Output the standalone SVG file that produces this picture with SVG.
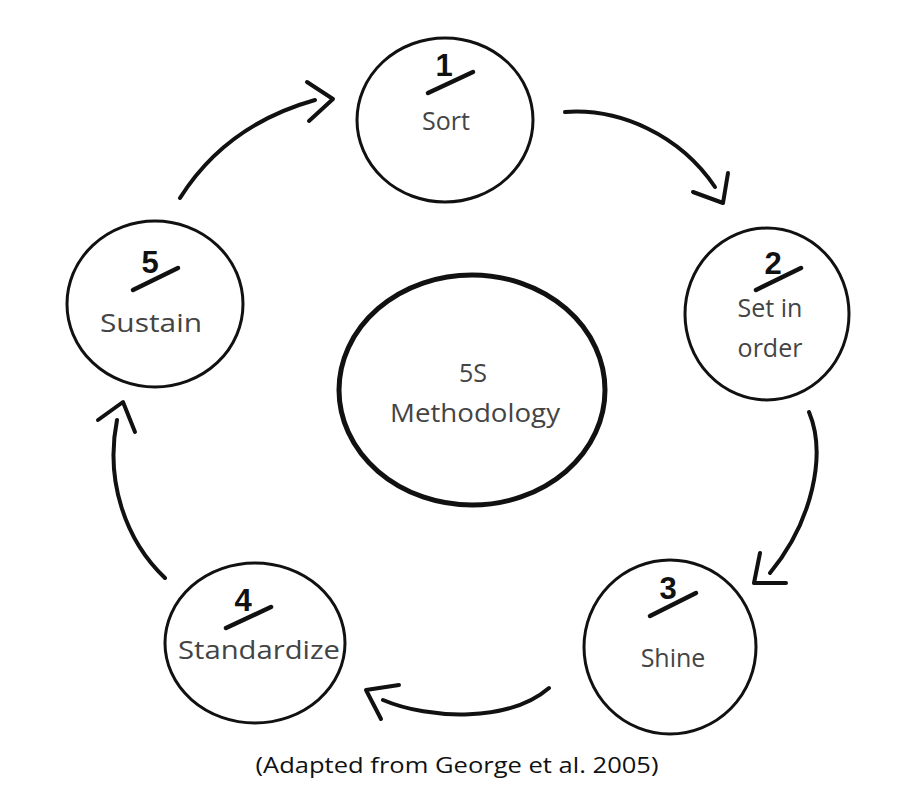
<svg xmlns="http://www.w3.org/2000/svg" width="917" height="792" viewBox="0 0 917 792">
<defs>
<style>
.node{fill:#fff;stroke:#111;stroke-width:3}
.core{fill:#fff;stroke:#111;stroke-width:5}
.lbl{font-family:"Open Sans","Noto Sans",sans-serif;font-size:25px;fill:#444;text-anchor:middle}
.num{font-family:"Liberation Sans","DejaVu Sans",sans-serif;font-weight:bold;font-size:31px;fill:#111;text-anchor:middle}
.ul{stroke:#111;stroke-width:4.5;stroke-linecap:round;fill:none}
.arr{stroke:#111;stroke-width:4;stroke-linecap:round;stroke-linejoin:round;fill:none}
.cap{font-family:"Open Sans","Liberation Sans",sans-serif;font-size:21px;fill:#111;text-anchor:middle}
</style>
</defs>
<rect width="917" height="792" fill="#fff"/>
<g id="connectors">
<path class="arr" d="M180,198 Q226,125 315,100"/>
<path class="arr" d="M307,82 L333,99 L309,121"/>
<path class="arr" d="M565,112 C620,108 680,135 715,187"/>
<path class="arr" d="M693,192 L723,203 L728,173"/>
<path class="arr" d="M809,412 C827,455 812,522 770,573"/>
<path class="arr" d="M760,553 L754,583 L786,583"/>
<path class="arr" d="M549,688 C510,722 430,720 383,700"/>
<path class="arr" d="M399,685 L366,690 L381,719"/>
<path class="arr" d="M165,578 C125,540 105,480 117,420"/>
<path class="arr" d="M98,420 L123,402 L135,432"/>
</g>
<g id="core">
<ellipse class="core" cx="472" cy="390" rx="133" ry="115"/>
<text class="lbl" x="473" y="382">5S</text>
<text class="lbl" x="475" y="422" textLength="170" lengthAdjust="spacingAndGlyphs">Methodology</text>
</g>
<g id="n1">
<ellipse class="node" cx="445" cy="120" rx="88" ry="82"/>
<text class="num" x="444" y="76">1</text>
<line class="ul" x1="428" y1="93" x2="473" y2="72"/>
<text class="lbl" x="446" y="130">Sort</text>
</g>
<g id="n2">
<ellipse class="node" cx="767" cy="314" rx="82" ry="86"/>
<text class="num" x="773" y="274">2</text>
<line class="ul" x1="756" y1="290" x2="801" y2="268"/>
<text class="lbl" x="770" y="317">Set in</text>
<text class="lbl" x="770" y="357">order</text>
</g>
<g id="n3">
<ellipse class="node" cx="670" cy="647" rx="86" ry="87"/>
<text class="num" x="668" y="599">3</text>
<line class="ul" x1="650" y1="616" x2="696" y2="593"/>
<text class="lbl" x="673" y="667">Shine</text>
</g>
<g id="n4">
<ellipse class="node" cx="255" cy="643" rx="90" ry="80"/>
<text class="num" x="243" y="611">4</text>
<line class="ul" x1="226" y1="628" x2="271" y2="607"/>
<text class="lbl" x="259" y="659" textLength="162" lengthAdjust="spacingAndGlyphs">Standardize</text>
</g>
<g id="n5">
<ellipse class="node" cx="155" cy="304" rx="88" ry="83"/>
<text class="num" x="150" y="273">5</text>
<line class="ul" x1="133" y1="290" x2="178" y2="268"/>
<text class="lbl" x="151" y="332" textLength="102" lengthAdjust="spacingAndGlyphs">Sustain</text>
</g>
<text class="cap" x="457" y="773" textLength="403" lengthAdjust="spacingAndGlyphs">(Adapted from George et al. 2005)</text>
</svg>
